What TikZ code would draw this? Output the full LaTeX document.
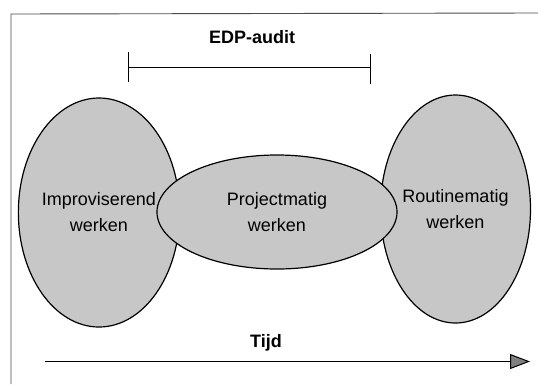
\documentclass[tikz,border=0pt]{standalone}
\usepackage{fontspec}
\setmainfont{Liberation Sans}
\usetikzlibrary{shapes.geometric,arrows.meta}
\begin{document}
\begin{tikzpicture}[x=1pt,y=-1pt,
  blob/.style={ellipse,draw=black,line width=1.2pt,fill=black!22,inner sep=0pt,
    align=center,font=\fontsize{18}{26}\selectfont},
  lbl/.style={font=\fontsize{18}{22}\selectfont\bfseries,anchor=base,inner sep=0pt},
  frameline/.style={draw=black!70,line width=0.9pt}]
\useasboundingbox (0,0) rectangle (538,384);
\fill[white] (0,0) rectangle (538,384);
% frame (cropped at right and bottom)
\coordinate (fbl) at (11,384);
\coordinate (ftl) at (11,14);
\coordinate (ftr) at (538,13);
\draw[frameline] (fbl) -- (ftl) -- (ftr);
% EDP-audit bracket
\node[lbl] (edp) at (252,43) {EDP-audit};
\coordinate (bl) at (128,67);
\coordinate (br) at (370,67);
\draw[line width=1pt] (bl) -- (br);
\draw[line width=1pt] ([yshift=-15pt]bl) -- ([yshift=15pt]bl);
\draw[line width=1pt] ([yshift=-17pt]br) -- ([yshift=13pt]br);
% ellipses
\node[blob,minimum width=146pt,minimum height=229pt] (impr) at (99,212.5) {Improviserend\\werken};
\node[blob,minimum width=149pt,minimum height=228pt] (rout) at (455.5,209) {Routinematig\\werken};
\node[blob,minimum width=240pt,minimum height=114pt] (proj) at (277,212) {Projectmatig\\werken};
% time arrow
\node[lbl] (tijd) at (266,347) {Tijd};
\coordinate (ts) at (45,361.5);
\coordinate (te) at (530,361.5);
\draw[line width=1pt,-{Triangle[length=20pt,width=15pt,fill=black!50]}] (ts) -- (te);
\end{tikzpicture}
\end{document}
